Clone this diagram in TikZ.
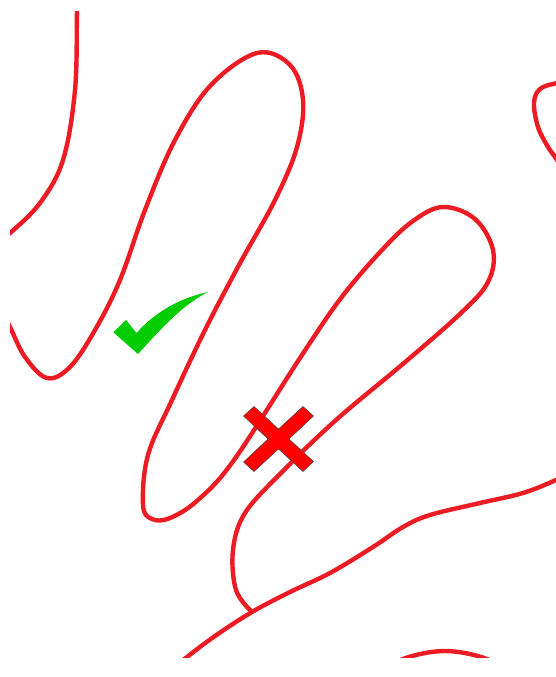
\documentclass[tikz,border=0pt]{standalone}
\usepackage{tikz}
\definecolor{curvered}{HTML}{ED1C24}
\definecolor{checkgreen}{HTML}{00CC00}
\definecolor{crossred}{HTML}{FF0000}
\tikzset{
  curve/.style={draw=curvered, line width=4.4pt, line join=round},
  checkmark/.style={fill=checkgreen, draw=none},
  crossmark/.style={fill=crossred, draw=black!70, line width=0.5pt, line join=miter}
}
\begin{document}
\begin{tikzpicture}[x=1pt,y=-1pt]
\fill[white] (0,0) rectangle (556,677);
\useasboundingbox (0,0) rectangle (556,677);
\begin{scope}
\clip (10,11.5) rectangle (556,657.5);
% curve A (top left)
\draw[curve] plot[smooth, tension=0.6] coordinates {(78,-5) (77,11) (75,90) (63,160) (40,203) (10,233) (-5,243)};
% curve B (main long loop)
\draw[curve] plot[smooth, tension=0.6] coordinates {(2,312) (10,327) (25,357) (47,378) (70,367) (95,330) (120,280) (145,210) (175,140) (211,85) (257,53) (290,65) (303,100) (297,147) (275,200) (239,265) (205,330) (172,400) (148,455) (143,505) (152,519) (170,518) (198,500) (234,460) (300,358) (341,298) (382,250) (413,221) (443,207) (475,219) (493,250) (488,282) (461,313) (404,363) (336,420) (282,472) (245,513) (233,550) (236,590) (252,612)};
% line C (lower long line)
\draw[curve] plot[smooth, tension=0.6] coordinates {(165,675) (187,657) (215,636) (252,612) (290,592) (330,573) (373,547) (403,527) (430,515) (480,503) (523,493) (556,480) (572,472)};
% curve D (top right)
\draw[curve] plot[smooth, tension=0.6] coordinates {(575,80) (557,83) (540,89) (534,103) (538,127) (548,147) (557,160) (568,180)};
% curve E (bottom)
\draw[curve] plot[smooth, tension=0.6] coordinates {(378,676) (403,659) (445,651) (487,659) (512,676)};
\end{scope}
% check mark
\path[checkmark] (113.3,332.3) -- (126,320) -- (136.5,333)
  .. controls (155,312) and (180,298) .. (208,292)
  .. controls (182,305) and (160,330) .. (138,354) -- cycle;
% cross mark
\path[crossmark] (254,406.5) -- (278.5,429) -- (303,406.5) -- (313.5,416) -- (289,439)
  -- (313.5,461.5) -- (303,471.5) -- (278.5,449) -- (254,471.5) -- (243.5,462)
  -- (268,439) -- (243.5,416) -- cycle;
\end{tikzpicture}
\end{document}
